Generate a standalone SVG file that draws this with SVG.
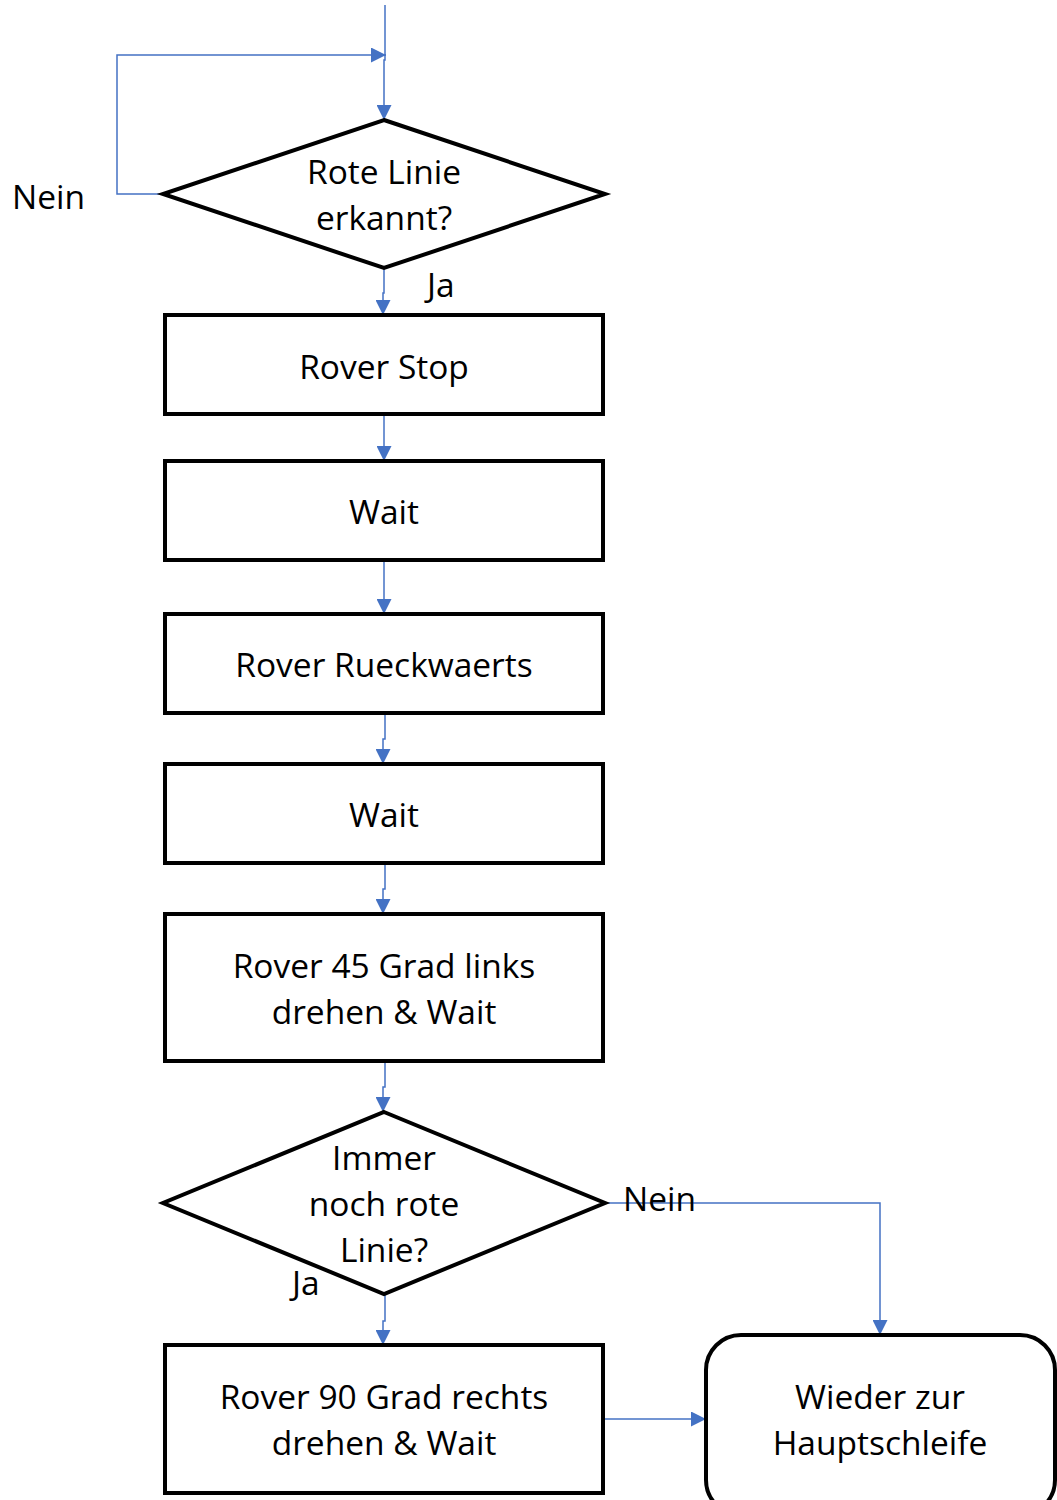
<svg xmlns="http://www.w3.org/2000/svg" width="1057" height="1500" viewBox="0 0 1057 1500">
<defs>
<marker id="ah" viewBox="0 0 10 10" refX="10" refY="5" markerWidth="16" markerHeight="15" markerUnits="userSpaceOnUse" orient="auto">
<path d="M0,0 L10,5 L0,10 z" fill="#4472C4"/>
</marker>
<style>
.n{fill:#fff;stroke:#000;stroke-width:4}
.t{font-family:"Open Sans","Liberation Sans",sans-serif;font-size:33.5px;fill:#000;text-anchor:middle}
.l{font-family:"Open Sans","Liberation Sans",sans-serif;font-size:33.5px;fill:#000}
.c{fill:none;stroke:#4472C4;stroke-width:1.5}
</style>
</defs>
<rect width="1057" height="1500" fill="#fff"/>
<g id="connectors">
<path class="c" d="M385,5 V55"/>
<path class="c" d="M163,194 H117 V55 H386" marker-end="url(#ah)"/>
<path class="c" d="M385,55 V60 H384 V120" marker-end="url(#ah)"/>
<path class="c" d="M384,268 V293 H383 V315" marker-end="url(#ah)"/>
<path class="c" d="M384,414 V461" marker-end="url(#ah)"/>
<path class="c" d="M384,560 V614" marker-end="url(#ah)"/>
<path class="c" d="M385,713 V739 H383 V764" marker-end="url(#ah)"/>
<path class="c" d="M385,863 V889 H383 V914" marker-end="url(#ah)"/>
<path class="c" d="M385,1061 V1087 H383 V1112" marker-end="url(#ah)"/>
<path class="c" d="M385,1294 V1321 H383 V1345" marker-end="url(#ah)"/>
<path class="c" d="M605,1203 H880 V1335" marker-end="url(#ah)"/>
<path class="c" d="M603,1419 H706" marker-end="url(#ah)"/>
</g>
<g id="d1">
<polygon class="n" points="384,120 605,194 384,268 163,194"/>
<text class="t" x="384" y="184">Rote Linie</text>
<text class="t" x="384" y="230">erkannt?</text>
</g>
<g id="r1"><rect class="n" x="165" y="315" width="438" height="99"/><text class="t" x="384" y="379">Rover Stop</text></g>
<g id="r2"><rect class="n" x="165" y="461" width="438" height="99"/><text class="t" x="384" y="524">Wait</text></g>
<g id="r3"><rect class="n" x="165" y="614" width="438" height="99"/><text class="t" x="384" y="677">Rover Rueckwaerts</text></g>
<g id="r4"><rect class="n" x="165" y="764" width="438" height="99"/><text class="t" x="384" y="827">Wait</text></g>
<g id="r5"><rect class="n" x="165" y="914" width="438" height="147"/><text class="t" x="384" y="978">Rover 45 Grad links</text><text class="t" x="384" y="1024">drehen &amp; Wait</text></g>
<g id="d2">
<polygon class="n" points="384,1112 605,1203 384,1294 163,1203"/>
<text class="t" x="384" y="1170">Immer</text>
<text class="t" x="384" y="1216">noch rote</text>
<text class="t" x="384" y="1262">Linie?</text>
</g>
<g id="r6"><rect class="n" x="165" y="1345" width="438" height="148"/><text class="t" x="384" y="1409">Rover 90 Grad rechts</text><text class="t" x="384" y="1455">drehen &amp; Wait</text></g>
<g id="end"><rect class="n" x="706" y="1335" width="349" height="180" rx="35"/><text class="t" x="880" y="1409">Wieder zur</text><text class="t" x="880" y="1455">Hauptschleife</text></g>
<g id="labels">
<text class="l" x="12" y="209">Nein</text>
<text class="l" x="427" y="297">Ja</text>
<text class="l" x="623" y="1211">Nein</text>
<text class="l" x="292" y="1295">Ja</text>
</g>
</svg>
